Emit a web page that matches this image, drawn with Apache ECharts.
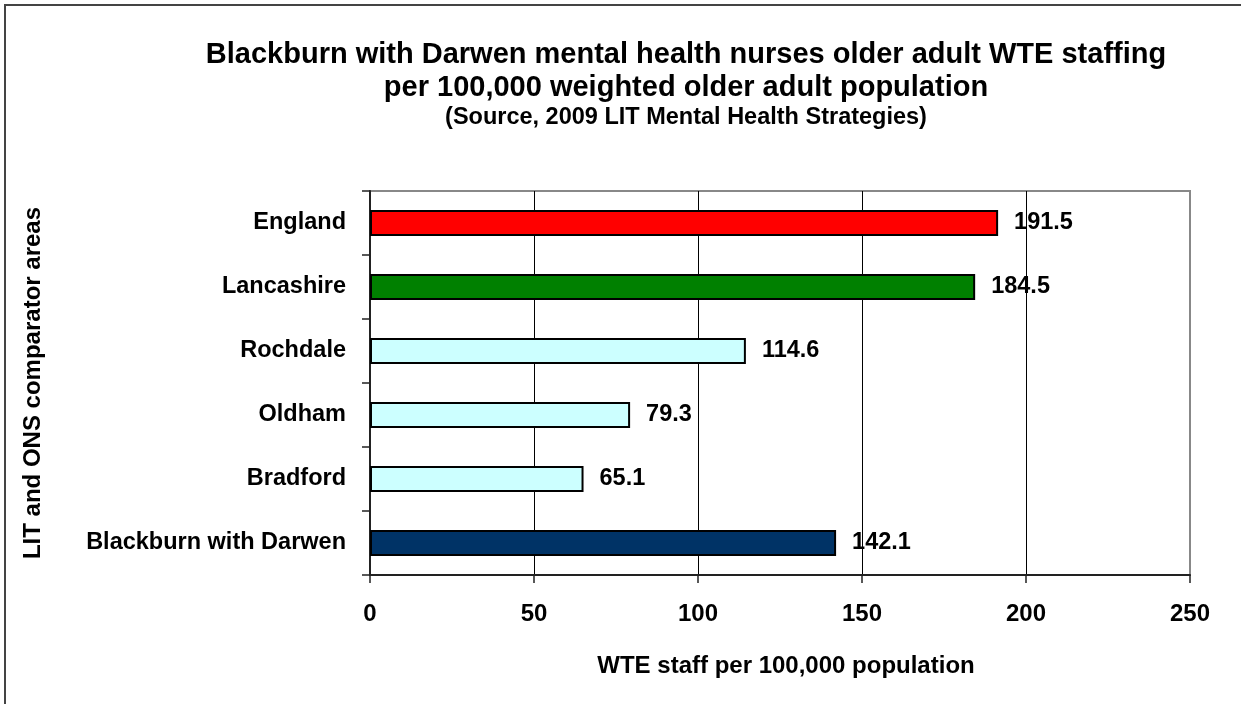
<!DOCTYPE html>
<html>
<head>
<meta charset="utf-8">
<script src="https://cdn.jsdelivr.net/npm/echarts@6/dist/echarts.min.js"></script>
<style>
  html, body { margin: 0; padding: 0; background: #fff; }
  #chart { width: 1241px; height: 704px; }
</style>
</head>
<body>
<div id="chart"></div>
<script>
// areas, top to bottom as shown
var areas = ['England', 'Lancashire', 'Rochdale', 'Oldham', 'Bradford', 'Blackburn with Darwen'];
var wteValues = [191.5, 184.5, 114.6, 79.3, 65.1, 142.1];
var xTicks = [0, 50, 100, 150, 200, 250];

var barColors = ['#ff0000', '#008000', '#ccffff', '#ccffff', '#ccffff', '#003366'];
var font = 'Liberation Sans, Arial, sans-serif';

var chart = echarts.init(document.getElementById('chart'));

chart.setOption({
  backgroundColor: '#fff',
  animation: false,
  title: {
    text: 'Blackburn with Darwen mental health nurses older adult WTE staffing\nper 100,000 weighted older adult population',
    subtext: '(Source, 2009 LIT Mental Health Strategies)',
    left: 681,
    top: 33,
    textAlign: 'center',
    itemGap: 2,
    textStyle: { fontFamily: font, fontSize: 29, fontWeight: 'bold', color: '#000', lineHeight: 33 },
    subtextStyle: { fontFamily: font, fontSize: 23.5, fontWeight: 'bold', color: '#000' }
  },
  graphic: [{
    type: 'rect',
    silent: true,
    shape: { x: 5, y: 5, width: 1300, height: 800 },
    style: { fill: 'none', stroke: '#444', lineWidth: 2 }
  }],
  grid: {
    left: 370, right: 51, top: 191, bottom: 129,
    show: true,
    borderColor: '#888',
    borderWidth: 2
  },
  xAxis: {
    type: 'value',
    min: xTicks[0],
    max: xTicks[xTicks.length - 1],
    interval: 50,
    name: 'WTE staff per 100,000 population',
    nameLocation: 'middle',
    nameGap: 79,
    nameTextStyle: { fontFamily: font, fontSize: 24, fontWeight: 'bold', color: '#000', padding: [0, 0, 0, 12] },
    axisLine: { show: true, lineStyle: { color: '#222', width: 2 } },
    axisTick: { show: true, length: 8, lineStyle: { color: '#222', width: 1.5 } },
    axisLabel: { fontFamily: font, fontSize: 24, fontWeight: 'bold', color: '#000', margin: 27 },
    splitLine: { show: true, showMinLine: false, showMaxLine: false, lineStyle: { color: '#000', width: 1 } }
  },
  yAxis: {
    type: 'category',
    data: areas,
    inverse: true,
    name: 'LIT and ONS comparator areas',
    nameLocation: 'middle',
    nameGap: 325,
    nameTextStyle: { fontFamily: font, fontSize: 24, fontWeight: 'bold', color: '#000' },
    axisLine: { show: true, lineStyle: { color: '#222', width: 2 } },
    axisTick: { show: true, length: 8, lineStyle: { color: '#222', width: 1.5 } },
    axisLabel: { fontFamily: font, fontSize: 23.5, fontWeight: 'bold', color: '#000', margin: 24 }
  },
  series: [{
    type: 'bar',
    barWidth: 26,
    data: wteValues.map(function (v, i) {
      return { value: v, itemStyle: { color: barColors[i] } };
    }),
    itemStyle: { borderColor: '#000', borderWidth: 2 },
    label: {
      show: true,
      position: 'right',
      distance: 16,
      fontFamily: font,
      fontSize: 23.5,
      fontWeight: 'bold',
      color: '#000'
    }
  }]
});
</script>
</body>
</html>
